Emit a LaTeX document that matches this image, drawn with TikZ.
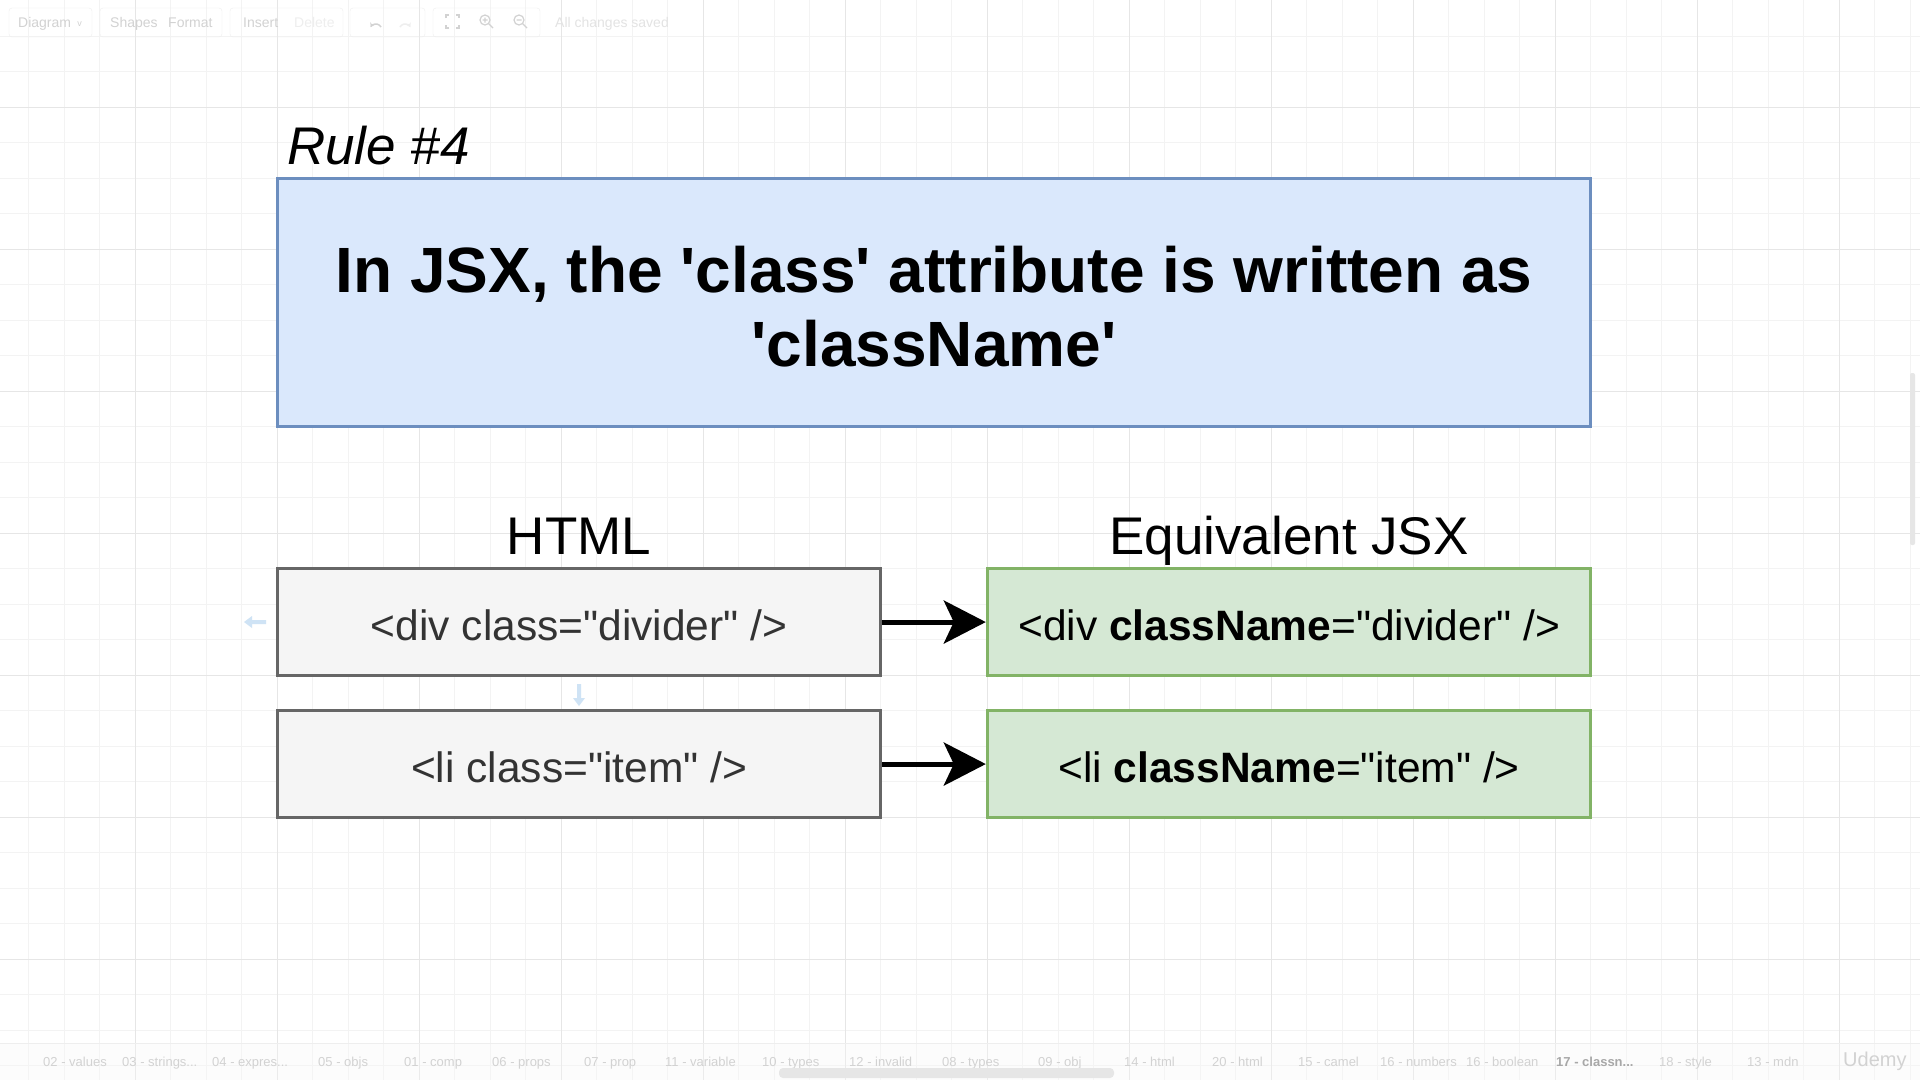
\documentclass[tikz,border=0pt]{standalone}
\usepackage{fontspec}
\setmainfont{Liberation Sans}[Ligatures=TeXOff]
\usetikzlibrary{arrows.meta}
\definecolor{blueF}{HTML}{DAE8FC}
\definecolor{blueD}{HTML}{6C8EBF}
\definecolor{grayF}{HTML}{F5F5F5}
\definecolor{grayD}{HTML}{666666}
\definecolor{greenF}{HTML}{D5E8D4}
\definecolor{greenD}{HTML}{82B366}
\definecolor{gridMinor}{HTML}{F3F3F3}
\definecolor{gridMajor}{HTML}{E6E6E6}
\definecolor{uiText}{HTML}{D2D2D2}
\definecolor{uiLine}{HTML}{EEEEEE}
\definecolor{hintBlue}{HTML}{CFE3F5}
\definecolor{txtDark}{HTML}{333333}
\newcommand{\lowtxt}[1]{\raisebox{-3.5pt}[\height][\depth]{#1}}
\tikzset{
  rulebox/.style={draw=blueD, fill=blueF, line width=3pt, inner sep=0pt},
  ruletext/.style={inner sep=0pt, align=center, font=\fontsize{64}{74}\selectfont\bfseries},
  htmlbox/.style={draw=grayD, fill=grayF, line width=3pt, inner sep=0pt, text=txtDark,
    minimum width=603.5pt, minimum height=106.5pt, font=\fontsize{42.5}{50}\selectfont},
  jsxbox/.style={draw=greenD, fill=greenF, line width=3pt, inner sep=0pt, text=black,
    minimum width=603.5pt, minimum height=106.5pt, font=\fontsize{42.5}{50}\selectfont},
  headlabel/.style={anchor=base, inner sep=0pt, font=\fontsize{53}{60}\selectfont},
  flowarrow/.style={line width=5pt, draw=black, -{Stealth[length=42pt, width=43pt, inset=10pt]}},
  uilabel/.style={text=uiText, inner sep=0pt, anchor=base west, font=\fontsize{14}{16}\selectfont},
  tablabel/.style={text=uiText, inner sep=0pt, anchor=base west, font=\fontsize{13}{15}\selectfont},
  hint/.style={fill=hintBlue, draw=none}
}
\begin{document}
\begin{tikzpicture}[x=1pt,y=-1pt]
\useasboundingbox (0,0) rectangle (1920,1080);
\fill[white] (0,0) rectangle (1920,1080);
% grid
\foreach \k in {-7,...,46} \draw[gridMinor, line width=1pt] ({277.3+35.5*\k},0) -- ({277.3+35.5*\k},1080);
\foreach \k in {-22,...,7} \draw[gridMinor, line width=1pt] (0,{817.3+35.5*\k}) -- (1920,{817.3+35.5*\k});
\foreach \k in {-4,0,...,44} \draw[gridMajor, line width=1pt] ({277.3+35.5*\k},0) -- ({277.3+35.5*\k},1080);
\foreach \k in {-20,-16,...,4} \draw[gridMajor, line width=1pt] (0,{817.3+35.5*\k}) -- (1920,{817.3+35.5*\k});

% toolbar (faint)
\draw[uiLine, rounded corners=3pt] (9,8) rectangle (92,37);
\draw[uiLine, rounded corners=3pt] (100,8) rectangle (222,37);
\draw[uiLine, rounded corners=3pt] (230,8) rectangle (343,37);
\draw[uiLine, rounded corners=3pt] (350,8) rectangle (425,37);
\draw[uiLine, rounded corners=3pt] (433,8) rectangle (540,37);
\node[uilabel] (tDiagram) at (18,27) {Diagram \,\raisebox{1pt}{\fontsize{9}{9}\selectfont v}};
\node[uilabel] (tShapes) at (110,27) {Shapes};
\node[uilabel] (tFormat) at (168,27) {Format};
\node[uilabel] (tInsert) at (243,27) {Insert};
\node[uilabel, text=uiLine] (tDelete) at (294,27) {Delete};
\draw[uiText, line width=1.5pt, -{Stealth[length=4pt,width=5pt]}] (381,27) arc (30:150:6pt);
\draw[uiLine, line width=1.5pt, -{Stealth[length=4pt,width=5pt]}] (400,27) arc (150:30:6pt);
\draw[uiText, line width=1.2pt] (446,18) -- (446,15) -- (449,15) (456,15) -- (459,15) -- (459,18) (459,25) -- (459,28) -- (456,28) (449,28) -- (446,28) -- (446,25);
\draw[uiText, line width=1.2pt] (485,20) circle (5pt) (489,24) -- (493,28) (482.5,20) -- (487.5,20) (485,17.5) -- (485,22.5);
\draw[uiText, line width=1.2pt] (519,20) circle (5pt) (523,24) -- (527,28) (516.5,20) -- (521.5,20);
\node[uilabel, text=uiLine!60!uiText] (tSaved) at (555,27) {All changes saved};

% right scrollbar
\fill[gridMajor, rounded corners=2pt] (1910,373) rectangle (1915,545);

% bottom tab bar
\fill[white!97!black, opacity=0.35] (0,1043) rectangle (1920,1080);
\draw[uiLine] (0,1043) -- (1920,1043);
\node[tablabel] (tab1) at (43,1066) {02 - values};
\node[tablabel] (tab2) at (122,1066) {03 - strings...};
\node[tablabel] (tab3) at (212,1066) {04 - expres...};
\node[tablabel] (tab4) at (318,1066) {05 - objs};
\node[tablabel] (tab5) at (404,1066) {01 - comp};
\node[tablabel] (tab6) at (492,1066) {06 - props};
\node[tablabel] (tab7) at (584,1066) {07 - prop};
\node[tablabel] (tab8) at (665,1066) {11 - variable};
\node[tablabel] (tab9) at (762,1066) {10 - types};
\node[tablabel] (tab10) at (849,1066) {12 - invalid};
\node[tablabel] (tab11) at (942,1066) {08 - types};
\node[tablabel] (tab12) at (1038,1066) {09 - obj};
\node[tablabel] (tab13) at (1124,1066) {14 - html};
\node[tablabel] (tab14) at (1212,1066) {20 - html};
\node[tablabel] (tab15) at (1298,1066) {15 - camel};
\node[tablabel] (tab16) at (1380,1066) {16 - numbers};
\node[tablabel] (tab17) at (1466,1066) {16 - boolean};
\node[tablabel, text=uiText!80!black, font=\fontsize{13}{15}\selectfont\bfseries] (tab18) at (1556,1066) {17 - classn...};
\node[tablabel] (tab19) at (1659,1066) {18 - style};
\node[tablabel] (tab20) at (1747,1066) {13 - mdn};
\node[tablabel, font=\fontsize{20}{22}\selectfont] (udemy) at (1843,1066) {Udemy};
\fill[gridMajor, rounded corners=4pt] (779,1068) rectangle (1114,1078);

% title
\node[anchor=base west, inner sep=0pt, font=\fontsize{53}{60}\selectfont\itshape] (rule) at (287,164) {Rule \#4};
\node[rulebox, minimum width=1313.5pt, minimum height=248.5pt] (main) at (934.05,302.55) {};
\node[ruletext] (maintext) at (934.05,306.5)
  {In JSX, the 'class' attribute is written as\\'className'};

% column labels
\node[headlabel] (lhtml) at (579.05,554.5) {HTML};
\node[headlabel] (ljsx) at (1289.05,554.5) {Equivalent JSX};

% hover hints (faint)
\fill[hint] (244,622) -- (252,616) -- (252,620) -- (266,620) -- (266,624) -- (252,624) -- (252,628) -- cycle;
\fill[hint] (579,706) -- (573,698) -- (577,698) -- (577,684) -- (581,684) -- (581,698) -- (585,698) -- cycle;

% boxes
\node[htmlbox] (h1) at (579.05,622.05) {\lowtxt{<div class="divider" />}};
\node[htmlbox] (h2) at (579.05,764.05) {\lowtxt{<li class="item" />}};
\node[jsxbox] (j1) at (1289.05,622.05) {\lowtxt{<div \textbf{className}="divider" />}};
\node[jsxbox] (j2) at (1289.05,764.05) {\lowtxt{<li \textbf{className}="item" />}};

% arrows
\draw[flowarrow] (h1) -- (j1);
\draw[flowarrow] (h2) -- (j2);
\end{tikzpicture}
\end{document}
